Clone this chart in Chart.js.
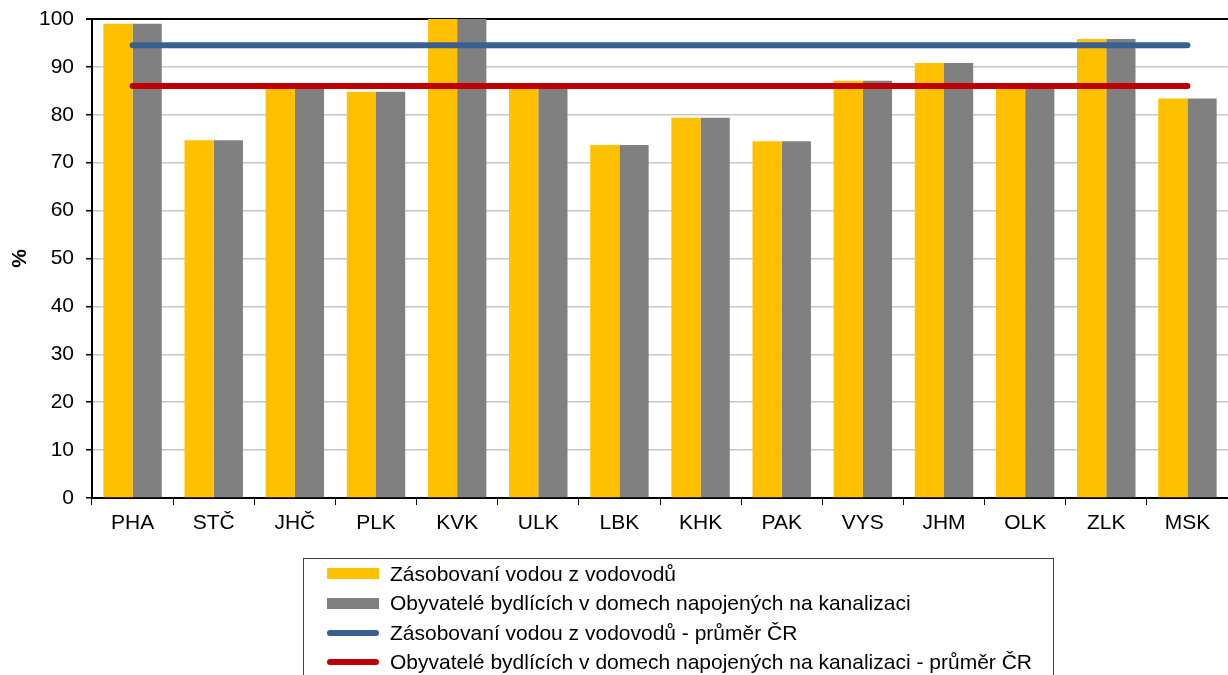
<!DOCTYPE html>
<html lang="cs">
<head>
<meta charset="utf-8">
<script src="https://cdn.jsdelivr.net/npm/chart.js@4"></script>
<style>
  html, body { margin: 0; padding: 0; background: #fff; }
  #wrap { position: relative; width: 1228px; height: 675px; overflow: hidden; }
  #legend {
    position: absolute; left: 303px; top: 558px; width: 751px; height: 140px;
    border: 1px solid #404040; box-sizing: border-box;
    font-family: "Liberation Sans", Arial, sans-serif; font-size: 21px; color: #000;
    padding-top: 0px;
  }
  .item { height: 29.5px; display: flex; align-items: center; }
  .sw { width: 52px; margin-left: 23px; margin-right: 11px; }
</style>
</head>
<body>
<div id="wrap">
  <canvas id="chart" width="1228" height="675"></canvas>
  <div id="legend"></div>
</div>
<script>
// kraje
const kraje = ['PHA', 'STČ', 'JHČ', 'PLK', 'KVK', 'ULK', 'LBK', 'KHK', 'PAK', 'VYS', 'JHM', 'OLK', 'ZLK', 'MSK'];

// podíl obyvatel v %
const vodovody  = [99.0, 74.7, 86.0, 84.8, 100.0, 86.6, 73.7, 79.4, 74.5, 87.1, 90.8, 85.9, 95.8, 83.4];
const kanalizace = [99.0, 74.7, 86.0, 84.8, 100.0, 86.6, 73.7, 79.4, 74.5, 87.1, 90.8, 85.9, 95.8, 83.4];

// průměr ČR
const vodovodyCR  = [94.5, 94.5, 94.5, 94.5, 94.5, 94.5, 94.5, 94.5, 94.5, 94.5, 94.5, 94.5, 94.5, 94.5];
const kanalizaceCR = [86.0, 86.0, 86.0, 86.0, 86.0, 86.0, 86.0, 86.0, 86.0, 86.0, 86.0, 86.0, 86.0, 86.0];

const yTicks = [0, 10, 20, 30, 40, 50, 60, 70, 80, 90, 100];

const font = "'Liberation Sans', Arial, sans-serif";

const ctx = document.getElementById('chart').getContext('2d');
const chart = new Chart(ctx, {
    type: 'bar',
    data: {
        labels: kraje,
        datasets: [
            {
                label: 'Zásobovaní vodou z vodovodů',
                data: vodovody,
                backgroundColor: '#FFC000',
                order: 2
            },
            {
                label: 'Obyvatelé bydlících v domech napojených na kanalizaci',
                data: kanalizace,
                backgroundColor: '#808080',
                order: 2
            },
            {
                type: 'line',
                label: 'Zásobovaní vodou z vodovodů - průměr ČR',
                data: vodovodyCR,
                borderColor: '#3A6091',
                borderWidth: 6,
                borderCapStyle: 'round',
                pointRadius: 0,
                order: 1
            },
            {
                type: 'line',
                label: 'Obyvatelé bydlících v domech napojených na kanalizaci - průměr ČR',
                data: kanalizaceCR,
                borderColor: '#C00000',
                borderWidth: 6,
                borderCapStyle: 'round',
                pointRadius: 0,
                order: 0
            }
        ]
    },
    options: {
        responsive: false,
        animation: false,
        layout: { padding: { top: 19, right: 0, left: 8, bottom: 0 } },
        datasets: {
            bar: { categoryPercentage: 0.72, barPercentage: 1.0 }
        },
        scales: {
            x: {
                grid: {
                    drawOnChartArea: false,
                    drawTicks: true,
                    tickLength: 7,
                    color: '#000'
                },
                border: { color: '#000', width: 2 },
                ticks: { color: '#000', font: { family: font, size: 21 }, padding: 6 },
                afterFit: (s) => { s.height = 177; s.paddingLeft = 0; s.paddingRight = 0; }
            },
            y: {
                min: 0,
                max: 100,
                afterBuildTicks: (s) => { s.ticks = yTicks.map(v => ({ value: v })); },
                grid: {
                    color: (c) => c.tick && c.tick.value === 100 ? '#000' : '#C8C8C8',
                    lineWidth: (c) => c.tick && c.tick.value === 100 ? 2 : 1.5,
                    tickColor: '#000',
                    tickLength: 6
                },
                border: { color: '#000', width: 2 },
                ticks: { color: '#000', font: { family: font, size: 21 }, padding: 12 },
                title: {
                    display: true,
                    text: '%',
                    color: '#000',
                    font: { family: font, size: 21, weight: 'bold' },
                    padding: { top: 0, bottom: 0 }
                },
                afterFit: (s) => { s.width = 84; s.paddingTop = 0; s.paddingBottom = 0; }
            }
        },
        plugins: {
            legend: { display: false },
            tooltip: { enabled: false }
        }
    }
});

// legenda
const legend = document.getElementById('legend');
chart.data.datasets.forEach(ds => {
    const row = document.createElement('div');
    row.className = 'item';
    const sw = document.createElement('span');
    sw.className = 'sw';
    if (ds.type === 'line') {
        sw.style.height = '6px';
        sw.style.borderRadius = '3px';
        sw.style.background = ds.borderColor;
    } else {
        sw.style.height = '11px';
        sw.style.background = ds.backgroundColor;
    }
    const txt = document.createElement('span');
    txt.textContent = ds.label;
    row.appendChild(sw);
    row.appendChild(txt);
    legend.appendChild(row);
});
</script>
</body>
</html>
